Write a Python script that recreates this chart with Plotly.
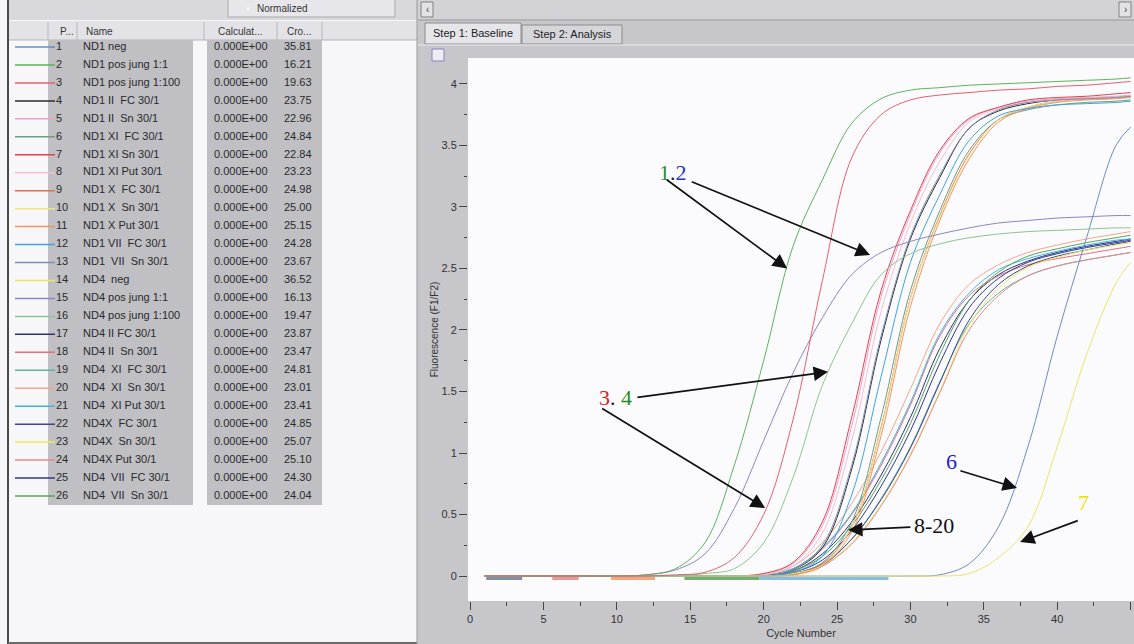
import plotly.graph_objects as go

W, H = 1134, 644

# ---------------- data ----------------
cycles = [1, 4, 8, 10, 12, 14, 16, 18, 20, 22, 24, 26, 28, 30, 32, 34, 36, 38, 40, 42, 44, 45]

positions = list(range(1, 27))
names = ["ND1 neg", "ND1 pos jung 1:1", "ND1 pos jung 1:100", "ND1 II  FC 30/1", "ND1 II  Sn 30/1",
         "ND1 XI  FC 30/1", "ND1 XI Sn 30/1", "ND1 XI Put 30/1", "ND1 X  FC 30/1", "ND1 X  Sn 30/1",
         "ND1 X Put 30/1", "ND1 VII  FC 30/1", "ND1  VII  Sn 30/1", "ND4  neg", "ND4 pos jung 1:1",
         "ND4 pos jung 1:100", "ND4 II FC 30/1", "ND4 II  Sn 30/1", "ND4  XI  FC 30/1", "ND4  XI  Sn 30/1",
         "ND4  XI Put 30/1", "ND4X  FC 30/1", "ND4X  Sn 30/1", "ND4X Put 30/1", "ND4  VII  FC 30/1",
         "ND4  VII  Sn 30/1"]
calculated = ["0.000E+00"] * 26
crossing = [35.81, 16.21, 19.63, 23.75, 22.96, 24.84, 22.84, 23.23, 24.98, 25.00, 25.15, 24.28, 23.67,
            36.52, 16.13, 19.47, 23.87, 23.47, 24.81, 23.01, 23.41, 24.85, 25.07, 25.10, 24.30, 24.04]
colors = ["#6a8cc6", "#5db35d", "#e5606c", "#2b2b2b", "#f0a2c6", "#6f9f80", "#e0424e", "#f2bfd2",
          "#ea6a4a", "#ece38a", "#f2955a", "#3fa3e0", "#7f8fb5", "#ece46a", "#8a86c8", "#8fc48f",
          "#2f336f", "#e2707f", "#5fb3a3", "#f2a58a", "#3fb5e5", "#3f4595", "#efea5c", "#e88a8a",
          "#2f3895", "#5aa55a"]

fl_01 = [0, 0, 0, 0, 0, 0, 0, 0, 0, 0, 0, 0, 0, 0, 0.01, 0.1, 0.4, 1.05, 1.95, 2.75, 3.5, 3.65]
fl_02 = [0, 0, 0, 0, 0.01, 0.06, 0.27, 0.9, 1.75, 2.68, 3.22, 3.68, 3.88, 3.95, 3.97, 3.99, 4.0, 4.01, 4.02, 4.03, 4.04, 4.05]
fl_03 = [0, 0, 0, 0, 0, 0.01, 0.03, 0.15, 0.5, 1.27, 2.4, 3.4, 3.75, 3.87, 3.91, 3.93, 3.95, 3.96, 3.98, 3.99, 4.01, 4.02]
fl_04 = [0, 0, 0, 0, 0, 0, 0, 0, 0, 0.05, 0.23, 0.87, 1.92, 2.74, 3.24, 3.64, 3.78, 3.84, 3.87, 3.88, 3.89, 3.9]
fl_05 = [0, 0, 0, 0, 0, 0, 0, 0, 0.02, 0.1, 0.41, 1.22, 2.27, 2.94, 3.44, 3.71, 3.81, 3.86, 3.88, 3.89, 3.9, 3.91]
fl_06 = [0, 0, 0, 0, 0, 0, 0, 0, 0, 0.02, 0.11, 0.44, 1.29, 2.32, 2.97, 3.46, 3.71, 3.79, 3.83, 3.85, 3.86, 3.87]
fl_07 = [0, 0, 0, 0, 0, 0, 0, 0, 0.02, 0.11, 0.44, 1.29, 2.32, 2.97, 3.46, 3.72, 3.81, 3.87, 3.89, 3.9, 3.92, 3.93]
fl_08 = [0, 0, 0, 0, 0, 0, 0, 0, 0.01, 0.08, 0.35, 1.1, 2.15, 2.87, 3.37, 3.69, 3.8, 3.85, 3.87, 3.88, 3.89, 3.9]
fl_09 = [0, 0, 0, 0, 0, 0, 0, 0, 0, 0.02, 0.1, 0.4, 1.21, 2.26, 2.93, 3.43, 3.71, 3.81, 3.86, 3.88, 3.89, 3.9]
fl_10 = [0, 0, 0, 0, 0, 0, 0, 0, 0, 0.02, 0.09, 0.4, 1.2, 2.26, 2.92, 3.42, 3.71, 3.81, 3.86, 3.88, 3.89, 3.9]
fl_11 = [0, 0, 0, 0, 0, 0, 0, 0, 0, 0.01, 0.08, 0.36, 1.14, 2.19, 2.89, 3.39, 3.69, 3.8, 3.85, 3.87, 3.88, 3.89]
fl_12 = [0, 0, 0, 0, 0, 0, 0, 0, 0, 0.03, 0.16, 0.66, 1.62, 2.55, 3.1, 3.54, 3.74, 3.8, 3.83, 3.84, 3.85, 3.86]
fl_13 = [0, 0, 0, 0, 0, 0, 0, 0, 0, 0.05, 0.25, 0.9, 1.95, 2.76, 3.26, 3.64, 3.79, 3.85, 3.87, 3.88, 3.89, 3.9]
fl_14 = [0, 0, 0, 0, 0, 0, 0, 0, 0, 0, 0, 0, 0, 0, 0, 0.02, 0.15, 0.4, 1.05, 1.8, 2.38, 2.55]
fl_15 = [0, 0, 0, 0, 0.01, 0.05, 0.18, 0.55, 1.1, 1.65, 2.1, 2.45, 2.63, 2.72, 2.78, 2.83, 2.87, 2.89, 2.91, 2.92, 2.93, 2.93]
fl_16 = [0, 0, 0, 0, 0, 0, 0.02, 0.06, 0.27, 0.8, 1.55, 2.05, 2.45, 2.62, 2.7, 2.75, 2.78, 2.8, 2.81, 2.82, 2.83, 2.83]
fl_17 = [0, 0, 0, 0, 0, 0, 0, 0, 0, 0.04, 0.18, 0.44, 0.82, 1.29, 1.85, 2.24, 2.45, 2.56, 2.63, 2.68, 2.72, 2.74]
fl_18 = [0, 0, 0, 0, 0, 0, 0, 0, 0.01, 0.06, 0.22, 0.5, 0.9, 1.39, 1.95, 2.28, 2.44, 2.53, 2.58, 2.62, 2.66, 2.68]
fl_19 = [0, 0, 0, 0, 0, 0, 0, 0, 0, 0.02, 0.1, 0.3, 0.63, 1.05, 1.58, 2.05, 2.3, 2.44, 2.52, 2.57, 2.61, 2.63]
fl_20 = [0, 0, 0, 0, 0, 0, 0, 0, 0.01, 0.08, 0.27, 0.59, 1.01, 1.52, 2.05, 2.37, 2.53, 2.63, 2.69, 2.74, 2.78, 2.8]
fl_21 = [0, 0, 0, 0, 0, 0, 0, 0, 0.01, 0.06, 0.23, 0.51, 0.92, 1.41, 1.97, 2.3, 2.49, 2.58, 2.64, 2.69, 2.73, 2.74]
fl_22 = [0, 0, 0, 0, 0, 0, 0, 0, 0, 0.02, 0.09, 0.3, 0.62, 1.04, 1.57, 2.08, 2.37, 2.52, 2.6, 2.65, 2.7, 2.72]
fl_23 = [0, 0, 0, 0, 0, 0, 0, 0, 0, 0.01, 0.08, 0.27, 0.58, 0.99, 1.5, 2.04, 2.34, 2.51, 2.59, 2.65, 2.69, 2.71]
fl_24 = [0, 0, 0, 0, 0, 0, 0, 0, 0, 0.01, 0.08, 0.26, 0.57, 0.98, 1.49, 2.0, 2.28, 2.44, 2.52, 2.57, 2.61, 2.63]
fl_25 = [0, 0, 0, 0, 0, 0, 0, 0, 0, 0.03, 0.13, 0.37, 0.73, 1.18, 1.73, 2.18, 2.42, 2.55, 2.62, 2.67, 2.71, 2.73]
fl_26 = [0, 0, 0, 0, 0, 0, 0, 0, 0, 0.04, 0.16, 0.41, 0.78, 1.24, 1.8, 2.24, 2.47, 2.6, 2.66, 2.71, 2.75, 2.77]

curves = [fl_01, fl_02, fl_03, fl_04, fl_05, fl_06, fl_07, fl_08, fl_09, fl_10, fl_11, fl_12, fl_13,
          fl_14, fl_15, fl_16, fl_17, fl_18, fl_19, fl_20, fl_21, fl_22, fl_23, fl_24, fl_25, fl_26]

# baseline-range markers drawn just under zero
base_start = [1.1, 5.6, 9.6, 14.6, 19.7]
base_end = [3.55, 7.4, 12.6, 19.7, 28.5]
base_level = -0.02
base_color = ["#8090a8", "#e89a9a", "#f0a880", "#72b072", "#86bce8"]

x_ticks = [0, 5, 10, 15, 20, 25, 30, 35, 40, 45]
y_ticks = [0, 0.5, 1, 1.5, 2, 2.5, 3, 3.5, 4]

# ---------------- helpers (layout only) ----------------
FONT = "Liberation Sans, Arial, sans-serif"
SERIF = "Liberation Serif, Times New Roman, serif"


def px(x):
    return x / W


def py(y):
    return 1 - y / H


def rect(x0, y0, x1, y1, fill, line=None, lw=1):
    return dict(type="rect", xref="paper", yref="paper", layer="below",
                x0=px(x0), x1=px(x1), y0=py(y1), y1=py(y0), fillcolor=fill,
                line=dict(color=line if line else fill, width=lw if line else 0))


def hline(x0, x1, y, color, w=1):
    return dict(type="line", xref="paper", yref="paper", layer="below",
                x0=px(x0), x1=px(x1), y0=py(y), y1=py(y), line=dict(color=color, width=w))


def vline(x, y0, y1, color, w=1):
    return dict(type="line", xref="paper", yref="paper", layer="below",
                x0=px(x), x1=px(x), y0=py(y0), y1=py(y1), line=dict(color=color, width=w))


def label(x, y, text, size=10, color="#333", xanchor="left", font=FONT):
    return dict(xref="paper", yref="paper", x=px(x), y=py(y), text=text, showarrow=False,
                xanchor=xanchor, yanchor="middle", font=dict(family=font, size=size, color=color))


fig = go.Figure()

# ---------------- amplification curves ----------------
order = list(range(16, 26)) + list(range(3, 13)) + [0, 13, 14, 15, 1, 2]
for i in order:
    fig.add_trace(go.Scatter(x=cycles, y=curves[i], mode="lines",
                             line=dict(color=colors[i], width=1, shape="spline", smoothing=1.0),
                             hoverinfo="skip", showlegend=False, xaxis="x", yaxis="y"))

for s, e, c in zip(base_start, base_end, base_color):
    fig.add_trace(go.Scatter(x=[s, e], y=[base_level, base_level], mode="lines",
                             line=dict(color=c, width=3), hoverinfo="skip", showlegend=False,
                             xaxis="x", yaxis="y"))

# ---------------- sample table (own axes, rows as y) ----------------
for i, p in enumerate(positions):
    fig.add_trace(go.Scatter(x=[15, 55], y=[p, p], mode="lines", line=dict(color=colors[i], width=1.5),
                             hoverinfo="skip", showlegend=False, xaxis="x2", yaxis="y2"))

tfont = dict(family=FONT, size=11, color="#2a2a2a")
for xcol, col in [(56, [str(p) for p in positions]), (83, names), (214, calculated),
                  (284, [f"{v:.2f}" for v in crossing])]:
    fig.add_trace(go.Scatter(x=[xcol] * len(positions), y=positions, mode="text", text=col,
                             textposition="middle right", textfont=tfont, hoverinfo="skip",
                             showlegend=False, cliponaxis=False, xaxis="x2", yaxis="y2"))

# ---------------- screenshot furniture ----------------
shapes = [
    rect(0, 0, 417, 644, "#f7f7f9"),
    rect(9, 0, 417, 20, "#d9d9dd"),
    rect(228, -2, 395, 17, "#e7e7eb", "#a8a8ad"),
    rect(9, 21, 417, 40, "#e3e3e7"),
    hline(9, 417, 40, "#b5b5ba"),
    vline(48, 22, 40, "#b8b8bd"), vline(77, 22, 40, "#b8b8bd"), vline(204, 22, 40, "#b8b8bd"),
    vline(277, 22, 40, "#b8b8bd"), vline(322, 22, 40, "#b8b8bd"),
    rect(48, 40, 193, 505, "#bfbfc4"),
    rect(207, 40, 322, 505, "#bfbfc4"),
    vline(8, 0, 644, "#4a4a4a", 2),
    hline(8, 417, 643, "#6a6a6a", 2),
    vline(417, 0, 644, "#9a9aa0", 1),
    # right panel
    rect(418, 0, 1134, 19, "#d2d2d6"),
    rect(421, 2, 433, 17, "#e2e2e6", "#808085"),
    rect(1119, 2, 1131, 17, "#e2e2e6", "#808085"),
    hline(418, 1134, 20, "#9c9ca2"),
    rect(425, 23, 521, 44, "#e6e6ea", "#8a8a90"),
    rect(522, 25, 622, 44, "#d6d6da", "#8a8a90"),
    hline(418, 1134, 45, "#ececef"),
    rect(432, 49, 444, 61, "#ececf2", "#9080c0"),
    rect(468, 58, 1134, 601, "#fbfbfd"),
]

annotations = [
    label(244, 8, "●", 8, "#f4f4f4"),
    label(255, 8, "Normalized", 10, "#333"),
    label(424, 9, "‹", 10, "#444"), label(1122, 9, "›", 10, "#444"),
    label(58, 31, "P...", 10), label(84, 31, "Name", 10), label(216, 31, "Calculat...", 10),
    label(285, 31, "Cro...", 10),
    label(473, 33, "Step 1: Baseline", 11, "#222", "center"),
    label(572, 34, "Step 2: Analysis", 11, "#222", "center"),
]

# hand-drawn labels on the chart (data coordinates)
hand = [
    (13.83, 3.28, "<span style='color:#2e8b2e'>1</span><span style='color:#222'>.</span>"
                  "<span style='color:#2233cc'>2</span>"),
    (9.9, 1.45, "<span style='color:#e02020'>3</span><span style='color:#222'>. </span>"
                "<span style='color:#2a8a2a'>4</span>"),
    (32.77, 0.93, "<span style='color:#2222cc'>6</span>"),
    (41.76, 0.60, "<span style='color:#eee000'>7</span>"),
    (31.6, 0.41, "<span style='color:#111'>8-20</span>"),
]
for x, y, t in hand:
    annotations.append(dict(xref="x", yref="y", x=x, y=y, text=t, showarrow=False,
                            font=dict(family=SERIF, size=22)))

arrows = [
    ((13.3, 3.23), (21.6, 2.50)),
    ((15.0, 3.21), (27.25, 2.61)),
    ((11.3, 1.45), (24.39, 1.66)),
    ((8.9, 1.37), (20.1, 0.553)),
    ((33.3, 0.86), (37.26, 0.715)),
    ((41.5, 0.455), (37.47, 0.276)),
    ((30.1, 0.398), (25.75, 0.374)),
]
for (tx, ty), (hx, hy) in arrows:
    annotations.append(dict(xref="x", yref="y", x=hx, y=hy, ax=tx, ay=ty, axref="x", ayref="y",
                            text="", showarrow=True, arrowhead=2, arrowsize=1.7, arrowwidth=1.7,
                            arrowcolor="#111", standoff=0, startstandoff=0))

row_top = 1 + (0 - 47) / 17.96
row_bottom = 1 + (644 - 47) / 17.96

fig.update_layout(
    width=W, height=H, autosize=False,
    margin=dict(l=0, r=0, t=0, b=0),
    paper_bgcolor="#c6c6cb", plot_bgcolor="rgba(0,0,0,0)",
    showlegend=False,
    shapes=shapes, annotations=annotations,
    xaxis=dict(domain=[468 / W, 1], range=[-0.14, 45.23], tickvals=x_ticks, ticks="outside",
               ticklen=8, tickwidth=1, tickcolor="#444", showgrid=False, zeroline=False,
               showline=False, tickfont=dict(family=FONT, size=11, color="#333"),
               minor=dict(dtick=2.5, tick0=0, ticks="outside", ticklen=4, tickcolor="#444",
                          showgrid=False),
               title=dict(text="Cycle Number", font=dict(family=FONT, size=11, color="#333"),
                          standoff=5),
               anchor="y"),
    yaxis=dict(domain=[1 - 601 / H, 1 - 58 / H], range=[-0.203, 4.211], tickvals=y_ticks,
               ticks="outside", ticklen=8, tickwidth=1, tickcolor="#444", showgrid=False,
               zeroline=False, showline=False, tickfont=dict(family=FONT, size=11, color="#333"),
               minor=dict(dtick=0.25, tick0=0, ticks="outside", ticklen=3, tickcolor="#444",
                          showgrid=False),
               title=dict(text="Fluorescence (F1/F2)", font=dict(family=FONT, size=10, color="#333"),
                          standoff=1),
               anchor="x"),
    xaxis2=dict(domain=[0, 417 / W], range=[0, 417], visible=False, anchor="y2", fixedrange=True),
    yaxis2=dict(domain=[0, 1], range=[row_bottom, row_top], visible=False, anchor="x2",
                fixedrange=True),
)

fig.write_html("out.html", config={"displayModeBar": False},
               post_script="document.body.style.margin='0';document.body.style.overflow='hidden';")
